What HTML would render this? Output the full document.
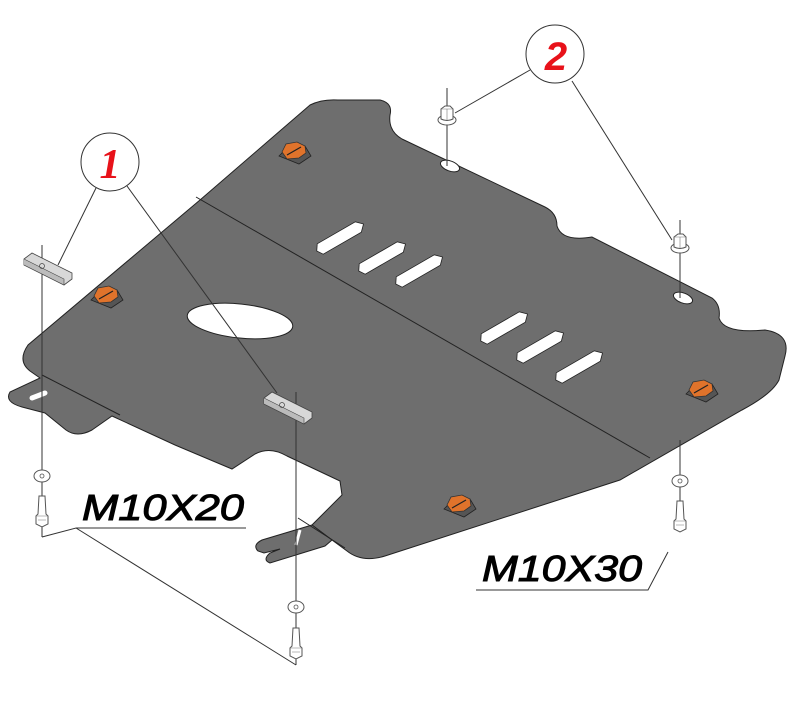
<!DOCTYPE html>
<html><head><meta charset="utf-8"><style>
html,body{margin:0;padding:0;background:#fff;}
svg{display:block;}
</style></head><body>
<svg width="800" height="708" viewBox="0 0 800 708" xmlns="http://www.w3.org/2000/svg">
<defs>
<g id="slot"><path d="M-24,-6 L20,-6 L26,0 L20,6 L-24,6 L-28,0 Z" fill="#fff" stroke="#222" stroke-width="0.8"/></g>
<g id="nutO">
<path d="M-14,4 L-4,-6 L12,-6 L18,4 L6,12 Z" fill="#555" stroke="#222" stroke-width="0.8"/>
<path d="M-11,0 L-7,-8 L4,-10 L12,-6 L13,1 L6,6 L-6,7 Z" fill="#e0732b" stroke="#333" stroke-width="0.8"/>
<path d="M-6,3 L8,-5" stroke="#222" stroke-width="1.2"/>
</g>
<g id="washer"><ellipse cx="0" cy="0" rx="8" ry="6" fill="#fff" stroke="#555" stroke-width="1"/><circle cx="0" cy="0" r="2" fill="none" stroke="#555" stroke-width="0.8"/></g>
<g id="bolt"><path d="M-3,-14 L3,-14 L4,4 L6,6 L6,14 L0,17 L-6,14 L-6,6 L-4,4 Z" fill="#fff" stroke="#555" stroke-width="1"/><path d="M-6,6 L6,6 M-4,10 L4,10" stroke="#777" stroke-width="0.6"/></g>
<g id="hexnut"><ellipse cx="0" cy="3" rx="9" ry="5" fill="#fff" stroke="#555" stroke-width="1"/><path d="M-6,2 L-6,-8 L-2,-11 L3,-11 L6,-8 L6,2 Q0,5 -6,2 Z" fill="#fff" stroke="#555" stroke-width="1"/><path d="M-6,-8 L6,-8 M0,-8 L0,3" stroke="#777" stroke-width="0.6"/></g>
<g id="plate"><path d="M-24,-10 L-16,-16 L24,4 L24,10 L16,16 L-24,-4 Z" fill="#d8d8d8" stroke="#444" stroke-width="0.8"/><path d="M-24,-4 L16,16 L16,10 L-24,-10" fill="#bbb" stroke="#444" stroke-width="0.6"/><circle cx="-6" cy="-3" r="2.5" fill="none" stroke="#444" stroke-width="0.7"/></g>
</defs>

<path d="M310,105 Q322,99 338,100 L380,100 Q393,103 390,115 Q388,131 402,139 L545,207 Q557,213 557,226 Q562,242 592,237 L712,298 Q721,305 719,318 Q724,334 765,330 Q791,334 785,356 L779,380 Q772,394 742,410 L620,480 L385,556 Q362,563 347,551 L332,540 L312,525 L342,495 L340,481 L287,456 Q270,446 255,454 L232,469 L175,445 L112,416 L92,430 Q77,438 66,430 L45,413 L22,407 Q4,402 10,392 L40,378 L30,371 Q17,361 28,345 L200,200 Z" fill="#6e6e6e" stroke="#222" stroke-width="1"/>
<path d="M312,525 L262,540 Q252,545 258,551 L264,553 L280,549 L270,553 Q262,560 270,563 L325,546 L332,540 Z" fill="#6e6e6e" stroke="#222" stroke-width="1"/>
<path d="M300,530 L296,545" stroke="#fff" stroke-width="3"/>
<path d="M32,398 L45,393" stroke="#fff" stroke-width="5" stroke-linecap="round"/>
<path d="M196,197 L650,458" stroke="#222" stroke-width="1" fill="none"/>
<path d="M42,375 L120,415" stroke="#222" stroke-width="1"/>
<path d="M298,518 L345,548" stroke="#222" stroke-width="1"/>

<ellipse cx="240" cy="321" rx="53" ry="17" transform="rotate(6 240 321)" fill="#fff" stroke="#222" stroke-width="1"/>
<ellipse cx="450" cy="166" rx="10" ry="5" transform="rotate(20 450 166)" fill="#fff" stroke="#222"/>
<ellipse cx="683" cy="298" rx="10" ry="5" transform="rotate(20 683 298)" fill="#fff" stroke="#222"/>
<g transform="translate(341,237) rotate(-30)"><use href="#slot"/></g>
<g transform="translate(383,257) rotate(-30)"><use href="#slot"/></g>
<g transform="translate(420,270) rotate(-30)"><use href="#slot"/></g>
<g transform="translate(505,327) rotate(-30)"><use href="#slot"/></g>
<g transform="translate(541,346) rotate(-30)"><use href="#slot"/></g>
<g transform="translate(580,366) rotate(-30)"><use href="#slot"/></g>

<g transform="translate(293,152)"><use href="#nutO"/></g>
<g transform="translate(105,296)"><use href="#nutO"/></g>
<g transform="translate(700,390)"><use href="#nutO"/></g>
<g transform="translate(458,505)"><use href="#nutO"/></g>

<g stroke="#333" stroke-width="1">
<path d="M42,245 L42,537"/>
<path d="M296,392 L296,665"/>
<path d="M447,88 L447,166"/>
<path d="M680,220 L680,298"/>
<path d="M680,440 L680,528"/>
</g>

<g transform="translate(48,269)"><use href="#plate"/></g>
<g transform="translate(288,408)"><use href="#plate"/></g>

<g transform="translate(447,117)"><use href="#hexnut"/></g>
<g transform="translate(680,245)"><use href="#hexnut"/></g>
<g transform="translate(42,476)"><use href="#washer"/></g>
<g transform="translate(42,510)"><use href="#bolt"/></g>
<g transform="translate(296,607)"><use href="#washer"/></g>
<g transform="translate(296,642)"><use href="#bolt"/></g>
<g transform="translate(680,481)"><use href="#washer"/></g>
<g transform="translate(680,515)"><use href="#bolt"/></g>

<g stroke="#333" stroke-width="1" fill="none">
<circle cx="110" cy="162" r="29" fill="#fff"/>
<path d="M96,188 L58,265"/>
<path d="M127,186 L277,393"/>
<circle cx="555" cy="54" r="29" fill="#fff"/>
<path d="M530,70 L455,113"/>
<path d="M572,81 L672,240"/>
<path d="M76,528 L246,528"/>
<path d="M42,537 L76,528 L296,665"/>
<path d="M476,590 L648,590 L668,552"/>
</g>
<text x="110" y="178" font-family="Liberation Serif, serif" font-style="italic" font-weight="bold" font-size="42" fill="#e8121a" text-anchor="middle">1</text>
<text x="556" y="70" font-family="Liberation Sans, sans-serif" font-style="italic" font-weight="bold" font-size="40" fill="#e8121a" text-anchor="middle">2</text>
<text x="82" y="520" font-family="Liberation Sans, sans-serif" font-style="italic" font-size="36" fill="#000" textLength="162" lengthAdjust="spacingAndGlyphs" stroke="#000" stroke-width="1">M10X20</text>
<text x="482" y="581" font-family="Liberation Sans, sans-serif" font-style="italic" font-size="36" fill="#000" textLength="160" lengthAdjust="spacingAndGlyphs" stroke="#000" stroke-width="1">M10X30</text>
</svg>
</body></html>
